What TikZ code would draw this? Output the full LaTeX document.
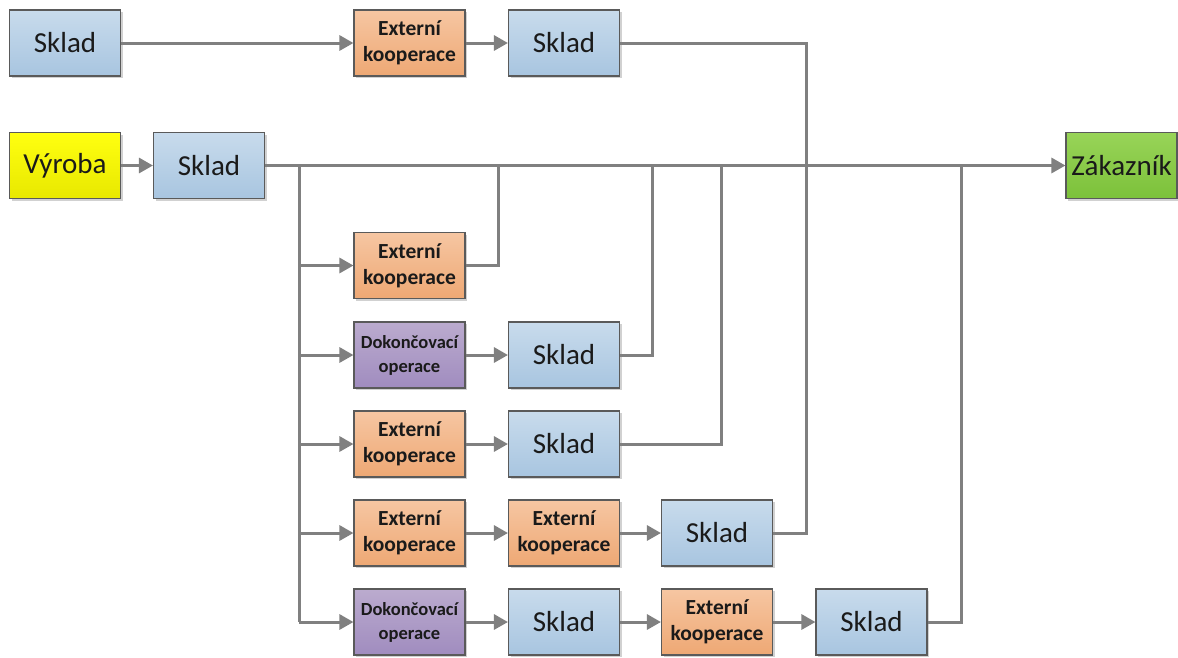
\documentclass[tikz,border=0pt]{standalone}
\usepackage{fontspec}
\setmainfont{Carlito}
\usetikzlibrary{arrows.meta,shadows}

\definecolor{lineg}{HTML}{808080}
\definecolor{boxedge}{HTML}{5A5A5A}
\definecolor{bluetop}{HTML}{C8DBEC}
\definecolor{bluebot}{HTML}{A8C5E0}
\definecolor{orgtop}{HTML}{F6C6A2}
\definecolor{orgbot}{HTML}{EEA874}
\definecolor{purtop}{HTML}{BBABCE}
\definecolor{purbot}{HTML}{A08CBF}
\definecolor{yeltop}{HTML}{FFFF10}
\definecolor{yelbot}{HTML}{E8E800}
\definecolor{grntop}{HTML}{98D458}
\definecolor{grnbot}{HTML}{7CC13A}
\definecolor{txt}{HTML}{1A1A1A}

\tikzset{
  box/.style={draw=boxedge, line width=1.1pt, minimum width=111pt, minimum height=66pt,
    inner sep=0pt, align=center, text=txt,
    general shadow={fill=black, opacity=0.18, shadow xshift=2pt, shadow yshift=-2pt}},
  skladbox/.style={box, top color=bluetop, bottom color=bluebot, font=\fontsize{29}{30}\selectfont},
  extbox/.style={box, top color=orgtop, bottom color=orgbot, font=\fontsize{21.5}{26}\selectfont\bfseries},
  dokbox/.style={box, top color=purtop, bottom color=purbot, font=\fontsize{18.5}{24}\selectfont\bfseries},
  vyrbox/.style={box, top color=yeltop, bottom color=yelbot, font=\fontsize{29}{30}\selectfont},
  zakbox/.style={box, top color=grntop, bottom color=grnbot, font=\fontsize{29}{30}\selectfont},
  link/.style={draw=lineg, line width=3pt},
  flow/.style={link, -{Triangle[length=14pt,width=15pt]}},
}

\begin{document}
\begin{tikzpicture}[x=1pt, y=-1pt]
\useasboundingbox (0,0) rectangle (1178,657);

% top row
\node[skladbox] (a1) at (65,43) {Sklad};
\node[extbox]   (a2) at (409.5,43) {Externí\\kooperace};
\node[skladbox] (a3) at (564,43) {Sklad};

% main row
\node[vyrbox]   (vy) at (65,165.5) {Výroba};
\node[skladbox] (s0) at (209,165.5) {Sklad};
\node[zakbox]   (zk) at (1121.5,165.5) {Zákazník};

% branch rows
\node[extbox]   (b1) at (409.5,265.5) {Externí\\kooperace};

\node[dokbox]   (c1) at (409.5,355) {Dokončovací\\operace};
\node[skladbox] (c2) at (564,355) {Sklad};

\node[extbox]   (d1) at (409.5,444) {Externí\\kooperace};
\node[skladbox] (d2) at (564,444) {Sklad};

\node[extbox]   (e1) at (409.5,533) {Externí\\kooperace};
\node[extbox]   (e2) at (564,533) {Externí\\kooperace};
\node[skladbox] (e3) at (717,533) {Sklad};

\node[dokbox]   (f1) at (409.5,622) {Dokončovací\\operace};
\node[skladbox] (f2) at (564,622) {Sklad};
\node[extbox]   (f3) at (717,622) {Externí\\kooperace};
\node[skladbox] (f4) at (871.5,622) {Sklad};

% junction points on the main line and the distribution trunk
\coordinate (tr) at (299,622);
\coordinate (jb) at (498.5,165.5);
\coordinate (jc) at (652.5,165.5);
\coordinate (jd) at (721.5,165.5);
\coordinate (je) at (806.5,300);
\coordinate (jf) at (961,165.5);

% top row flow
\draw[flow] (a1) -- (a2);
\draw[flow] (a2) -- (a3);
\draw[link] (a3.east) -| (je) |- (e3.east);

% main flow
\draw[flow] (vy) -- (s0);
\draw[flow] (s0) -- (zk);
\draw[link] (s0.east) -| (tr);

% distribution from the trunk
\draw[flow] (tr |- b1.west) -- (b1.west);
\draw[flow] (tr |- c1.west) -- (c1.west);
\draw[flow] (tr |- d1.west) -- (d1.west);
\draw[flow] (tr |- e1.west) -- (e1.west);
\draw[flow] (tr) -- (f1.west);

% chains inside the branches
\draw[flow] (c1) -- (c2);
\draw[flow] (d1) -- (d2);
\draw[flow] (e1) -- (e2);
\draw[flow] (e2) -- (e3);
\draw[flow] (f1) -- (f2);
\draw[flow] (f2) -- (f3);
\draw[flow] (f3) -- (f4);

% returns to the main line
\draw[link] (b1.east) -| (jb);
\draw[link] (c2.east) -| (jc);
\draw[link] (d2.east) -| (jd);
\draw[link] (f4.east) -| (jf);
\end{tikzpicture}
\end{document}
